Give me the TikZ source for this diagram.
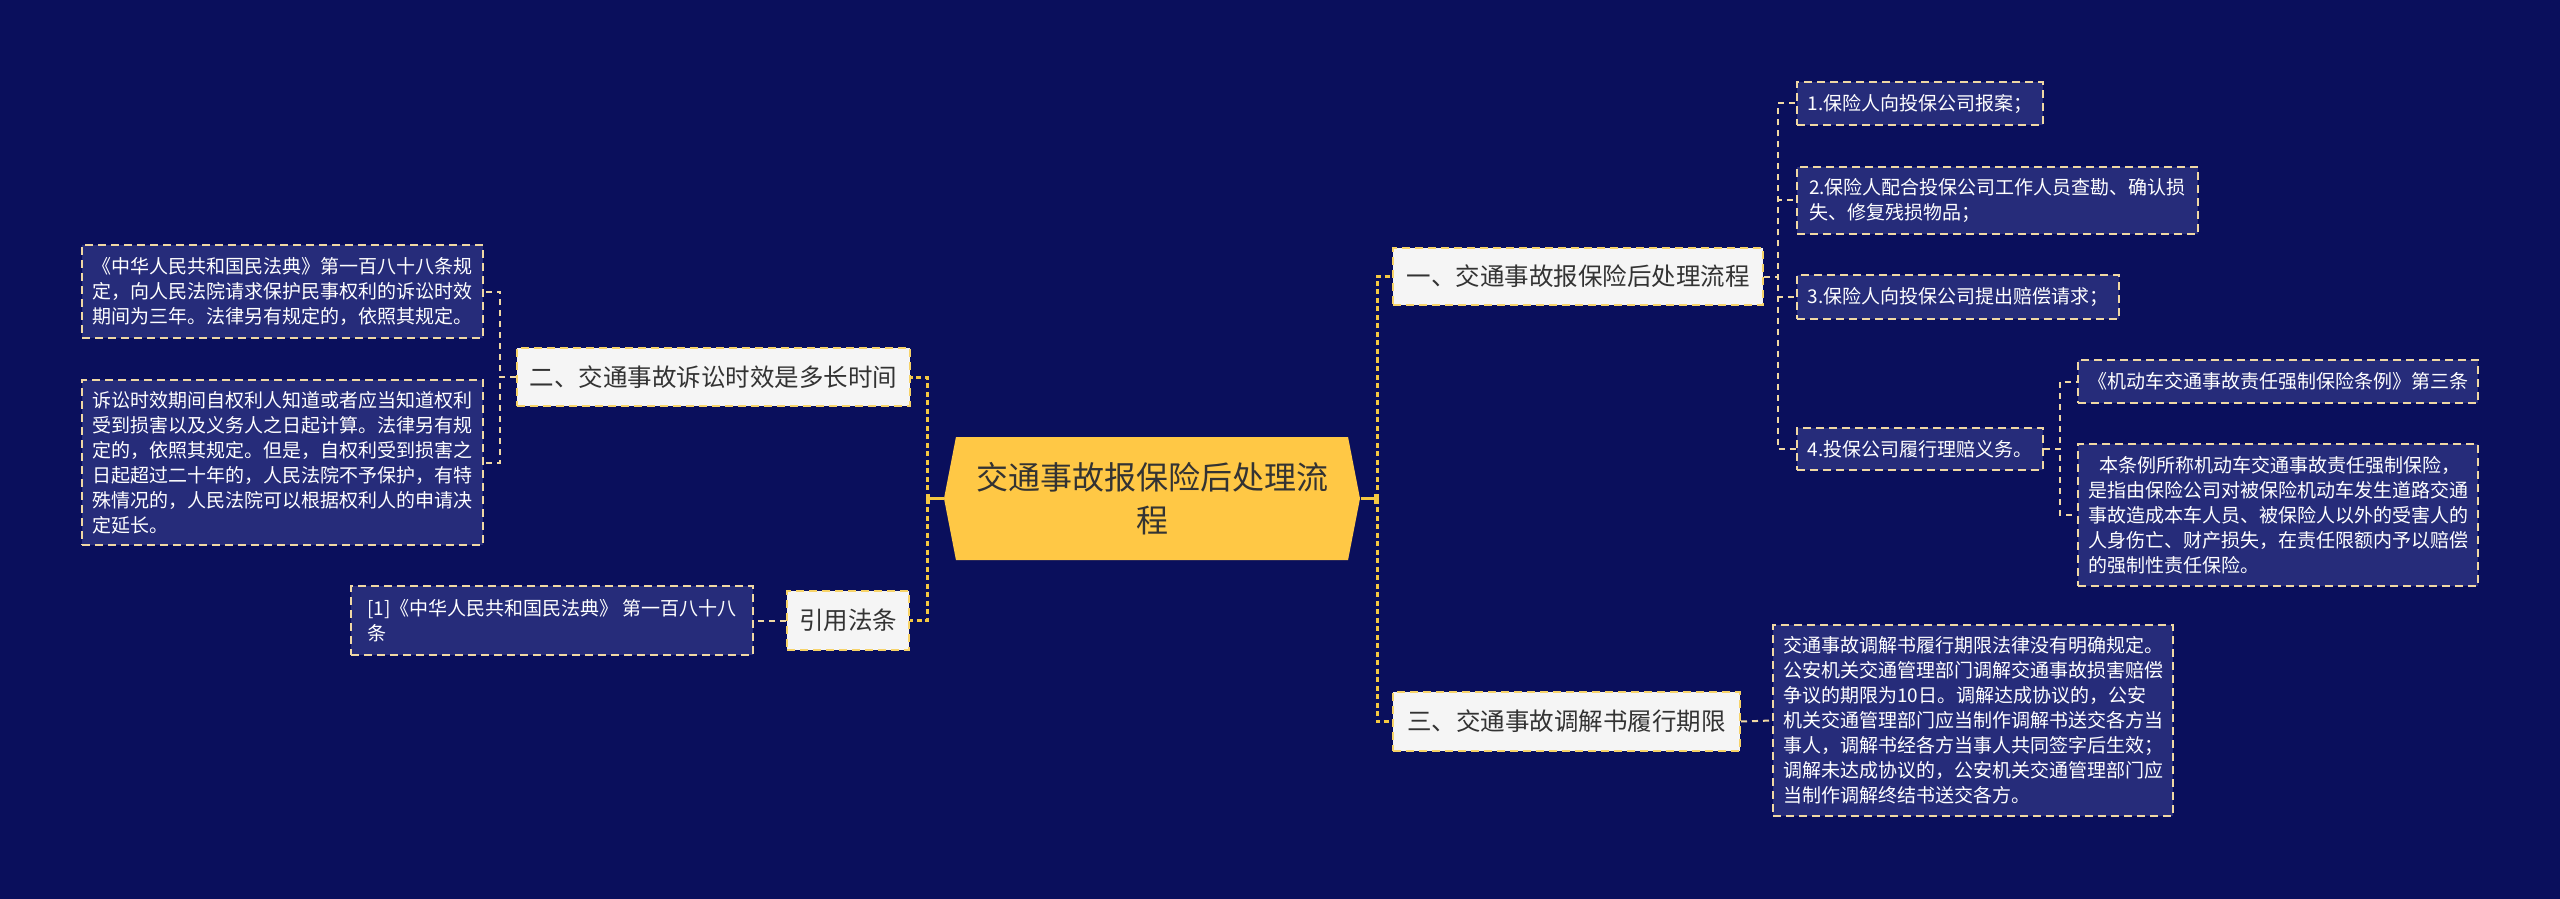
\documentclass[tikz,border=0pt]{standalone}
\usepackage{fontspec}
\setmainfont{Noto Sans CJK SC}
\usetikzlibrary{arrows.meta,shapes.symbols}
\definecolor{bgnavy}{HTML}{0A0F5C}
\definecolor{leaffill}{HTML}{262C7A}
\definecolor{leafline}{HTML}{F0D8A4}
\definecolor{gold}{HTML}{F5C842}
\definecolor{rootfill}{HTML}{FFC845}
\definecolor{topicfill}{HTML}{F5F5F5}
\definecolor{ink}{HTML}{333333}
\tikzset{
  sz/.style 2 args={minimum width=#1*0.4pt,minimum height=#2*0.4pt},
  root/.style={signal,signal to=west and east,signal pointer angle=158,fill=rootfill,text=ink,align=center,inner sep=0pt,font=\fontsize{12.8}{17.3}\selectfont},
  topic/.style={draw=gold!80!white,line width=0.8pt,dash pattern=on 3.2pt off 2pt,fill=topicfill,text=ink,inner sep=0pt,font=\fontsize{9.8}{12}\selectfont},
  leaf/.style={draw=leafline,line width=0.8pt,dash pattern=on 3.2pt off 2pt,fill=leaffill,text=white,align=left,inner xsep=3pt,inner ysep=0pt,font=\fontsize{7.6}{10}\selectfont},
  trunk/.style={draw=gold,line width=1.2pt,dash pattern=on 2pt off 1.4pt},
  stub/.style={draw=gold,line width=1.2pt,-{Bar[width=4pt]}},
  twig/.style={draw=leafline,line width=0.8pt,dash pattern=on 2.4pt off 2pt}
}
\begin{document}
\begin{tikzpicture}[x=0.4pt,y=-0.4pt]
\fill[bgnavy] (0,0) rectangle (2560,899);
\useasboundingbox (0,0) rectangle (2560,899);
% centre and main topics
\node[root,sz={416}{123}] (root) at (1152,498.5) {交通事故报保险后处理流\\程};
\node[topic,sz={370}{57}] (proc) at (1578,276.5) {一、交通事故报保险后处理流程};
\node[topic,sz={393}{58}] (limit) at (713.5,377) {二、交通事故诉讼时效是多长时间};
\node[topic,sz={347}{59}] (term) at (1566.5,721.5) {三、交通事故调解书履行期限};
\node[topic,sz={122}{59}] (cite) at (848,620.5) {引用法条};
% right side leaves
\node[leaf,sz={246}{43}] (s1) at (1920,103.5) {1.保险人向投保公司报案；};
\node[leaf,sz={401}{67}] (s2) at (1997.5,200.5) {2.保险人配合投保公司工作人员查勘、确认损\\失、修复残损物品；};
\node[leaf,sz={322}{44}] (s3) at (1958,297) {3.保险人向投保公司提出赔偿请求；};
\node[leaf,sz={246}{42}] (s4) at (1920,449) {4.投保公司履行理赔义务。};
\node[leaf,sz={400}{43}] (law) at (2278,381.5) {《机动车交通事故责任强制保险条例》第三条};
\node[leaf,sz={400}{142}] (lawtxt) at (2278,515) {\hspace*{0.6em}本条例所称机动车交通事故责任强制保险，\\是指由保险公司对被保险机动车发生道路交通\\事故造成本车人员、被保险人以外的受害人的\\人身伤亡、财产损失，在责任限额内予以赔偿\\的强制性责任保险。};
\node[leaf,sz={400}{191}] (med) at (1973,720.5) {交通事故调解书履行期限法律没有明确规定。\\公安机关交通管理部门调解交通事故损害赔偿\\争议的期限为10日。调解达成协议的，公安\\机关交通管理部门应当制作调解书送交各方当\\事人，调解书经各方当事人共同签字后生效；\\调解未达成协议的，公安机关交通管理部门应\\当制作调解终结书送交各方。};
% left side leaves
\node[leaf,sz={401}{93}] (civ1) at (282.5,291.5) {《中华人民共和国民法典》第一百八十八条规\\定，向人民法院请求保护民事权利的诉讼时效\\期间为三年。法律另有规定的，依照其规定。};
\node[leaf,sz={401}{165}] (civ2) at (282.5,462.5) {诉讼时效期间自权利人知道或者应当知道权利\\受到损害以及义务人之日起计算。法律另有规\\定的，依照其规定。但是，自权利受到损害之\\日起超过二十年的，人民法院不予保护，有特\\殊情况的，人民法院可以根据权利人的申请决\\定延长。};
\node[leaf,sz={402}{69}] (ref) at (552,620.5) {{[1]}《中华人民共和国民法典》 第一百八十八\\条};
% junctions
\coordinate (lj) at (927,498.5);
\coordinate (rj) at (1377,498.5);
\coordinate (pj) at (1778,276.5);
\coordinate (sj) at (2060,449);
\coordinate (cj) at (500,377);
% connectors
\draw[stub] (root.west) -- (lj);
\draw[stub] (root.east) -- (rj);
\draw[trunk] (lj) |- (limit.east); \draw[trunk] (lj) |- (cite.east);
\draw[trunk] (rj) |- (proc.west); \draw[trunk] (rj) |- (term.west);
\draw[twig] (proc.east) -- (pj) |- (s1.west);
\draw[twig] (proc.east) -- (pj) |- (s2.west);
\draw[twig] (proc.east) -- (pj) |- (s3.west);
\draw[twig] (proc.east) -- (pj) |- (s4.west);
\draw[twig] (s4.east) -- (sj) |- (law.west); \draw[twig] (s4.east) -- (sj) |- (lawtxt.west);
\draw[twig] (term.east) -- (med.west);
\draw[twig] (limit.west) -- (cj) |- (civ1.east); \draw[twig] (limit.west) -- (cj) |- (civ2.east);
\draw[twig] (cite.west) -- (ref.east);
\end{tikzpicture}
\end{document}
